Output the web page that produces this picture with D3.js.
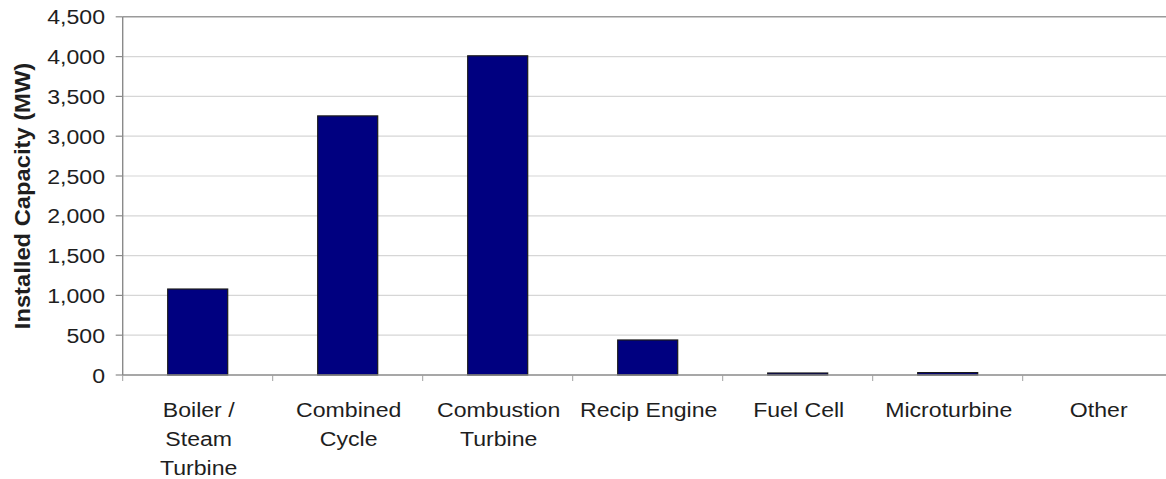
<!DOCTYPE html>
<html>
<head>
<meta charset="utf-8">
<script src="https://cdn.jsdelivr.net/npm/d3@7"></script>
<style>
  html, body { margin: 0; padding: 0; background: #fff; }
  svg { display: block; font-family: "Liberation Sans", Arial, sans-serif; }
</style>
</head>
<body>
<svg id="chart" width="1166" height="479"></svg>
<script>
// Installed capacity by prime mover technology (MW)
const categories = [
  ["Boiler /", "Steam", "Turbine"],
  ["Combined", "Cycle"],
  ["Combustion", "Turbine"],
  ["Recip Engine"],
  ["Fuel Cell"],
  ["Microturbine"],
  ["Other"]
];
const capacity = [1080, 3255, 4010, 440, 25, 30, 0];
const yTicks = [0, 500, 1000, 1500, 2000, 2500, 3000, 3500, 4000, 4500];
const yTitle = "Installed Capacity (MW)";

const svg = d3.select("#chart");
const plotLeft = 122.7, plotTop = 16.8, plotBottom = 375;
const step = 150;
const plotRight = plotLeft + step * categories.length;

const x = d3.scaleBand()
  .domain(d3.range(categories.length))
  .range([plotLeft, plotRight])
  .padding(0);

const y = d3.scaleLinear().domain([0, 4500]).range([plotBottom, plotTop]);

const barW = x.bandwidth() * 0.4;
const textStretch = 1.1;
const labelColor = "#1e1e1e";

// horizontal gridlines
svg.append("g")
  .selectAll("line")
  .data(yTicks.filter(d => d > 0 && d < 4500))
  .join("line")
  .attr("x1", plotLeft).attr("x2", plotRight)
  .attr("y1", d => y(d)).attr("y2", d => y(d))
  .attr("stroke", "#d6d6d6")
  .attr("stroke-width", 1.2);

// plot frame top edge
svg.append("line")
  .attr("x1", plotLeft).attr("x2", plotRight)
  .attr("y1", y(4500)).attr("y2", y(4500))
  .attr("stroke", "#9a9a9a")
  .attr("stroke-width", 1.6);

// bars
svg.append("g")
  .selectAll("rect")
  .data(capacity)
  .join("rect")
  .attr("x", (d, i) => x(i) + (x.bandwidth() - barW) / 2)
  .attr("y", d => y(d))
  .attr("width", barW)
  .attr("height", d => plotBottom - y(d))
  .attr("fill", "#000080")
  .attr("stroke", d => d > 0 ? "#1a1a1a" : "none")
  .attr("stroke-width", 1.2);

// y axis line and ticks
svg.append("line")
  .attr("x1", plotLeft).attr("x2", plotLeft)
  .attr("y1", y(4500)).attr("y2", plotBottom)
  .attr("stroke", "#8a8a8a").attr("stroke-width", 1.4);

svg.append("g")
  .selectAll("line")
  .data(yTicks)
  .join("line")
  .attr("x1", plotLeft - 7).attr("x2", plotLeft)
  .attr("y1", d => y(d)).attr("y2", d => y(d))
  .attr("stroke", "#8a8a8a").attr("stroke-width", 1.2);

// y tick labels
const fmt = d3.format(",");
svg.append("g")
  .selectAll("text")
  .data(yTicks)
  .join("text")
  .attr("transform", d => `translate(105,${y(d)}) scale(${textStretch},1)`)
  .attr("dy", "0.36em")
  .attr("text-anchor", "end")
  .attr("font-size", 21)
  .attr("fill", labelColor)
  .text(d => fmt(d));

// x axis line and category boundary ticks
svg.append("line")
  .attr("x1", plotLeft).attr("x2", plotRight)
  .attr("y1", plotBottom).attr("y2", plotBottom)
  .attr("stroke", "#8a8a8a").attr("stroke-width", 1.4);

svg.append("g")
  .selectAll("line")
  .data(d3.range(categories.length + 1))
  .join("line")
  .attr("x1", i => plotLeft + i * x.step()).attr("x2", i => plotLeft + i * x.step())
  .attr("y1", plotBottom).attr("y2", plotBottom + 6)
  .attr("stroke", "#a0a0a0").attr("stroke-width", 1);

// x category labels (multi-line)
const xl = svg.append("g")
  .selectAll("text")
  .data(categories)
  .join("text")
  .attr("transform", (d, i) => `translate(${x(i) + x.bandwidth() / 2 + 1},416.5) scale(${textStretch},1)`)
  .attr("text-anchor", "middle")
  .attr("font-size", 21)
  .attr("fill", labelColor);

xl.selectAll("tspan")
  .data(d => d)
  .join("tspan")
  .attr("x", 0)
  .attr("y", (d, i) => i * 29.2)
  .text(d => d);

// y axis title
svg.append("text")
  .attr("transform", `translate(29.5,196) rotate(-90) scale(1.08,1)`)
  .attr("text-anchor", "middle")
  .attr("font-size", 22)
  .attr("font-weight", "bold")
  .attr("fill", labelColor)
  .text(yTitle);
</script>
</body>
</html>
